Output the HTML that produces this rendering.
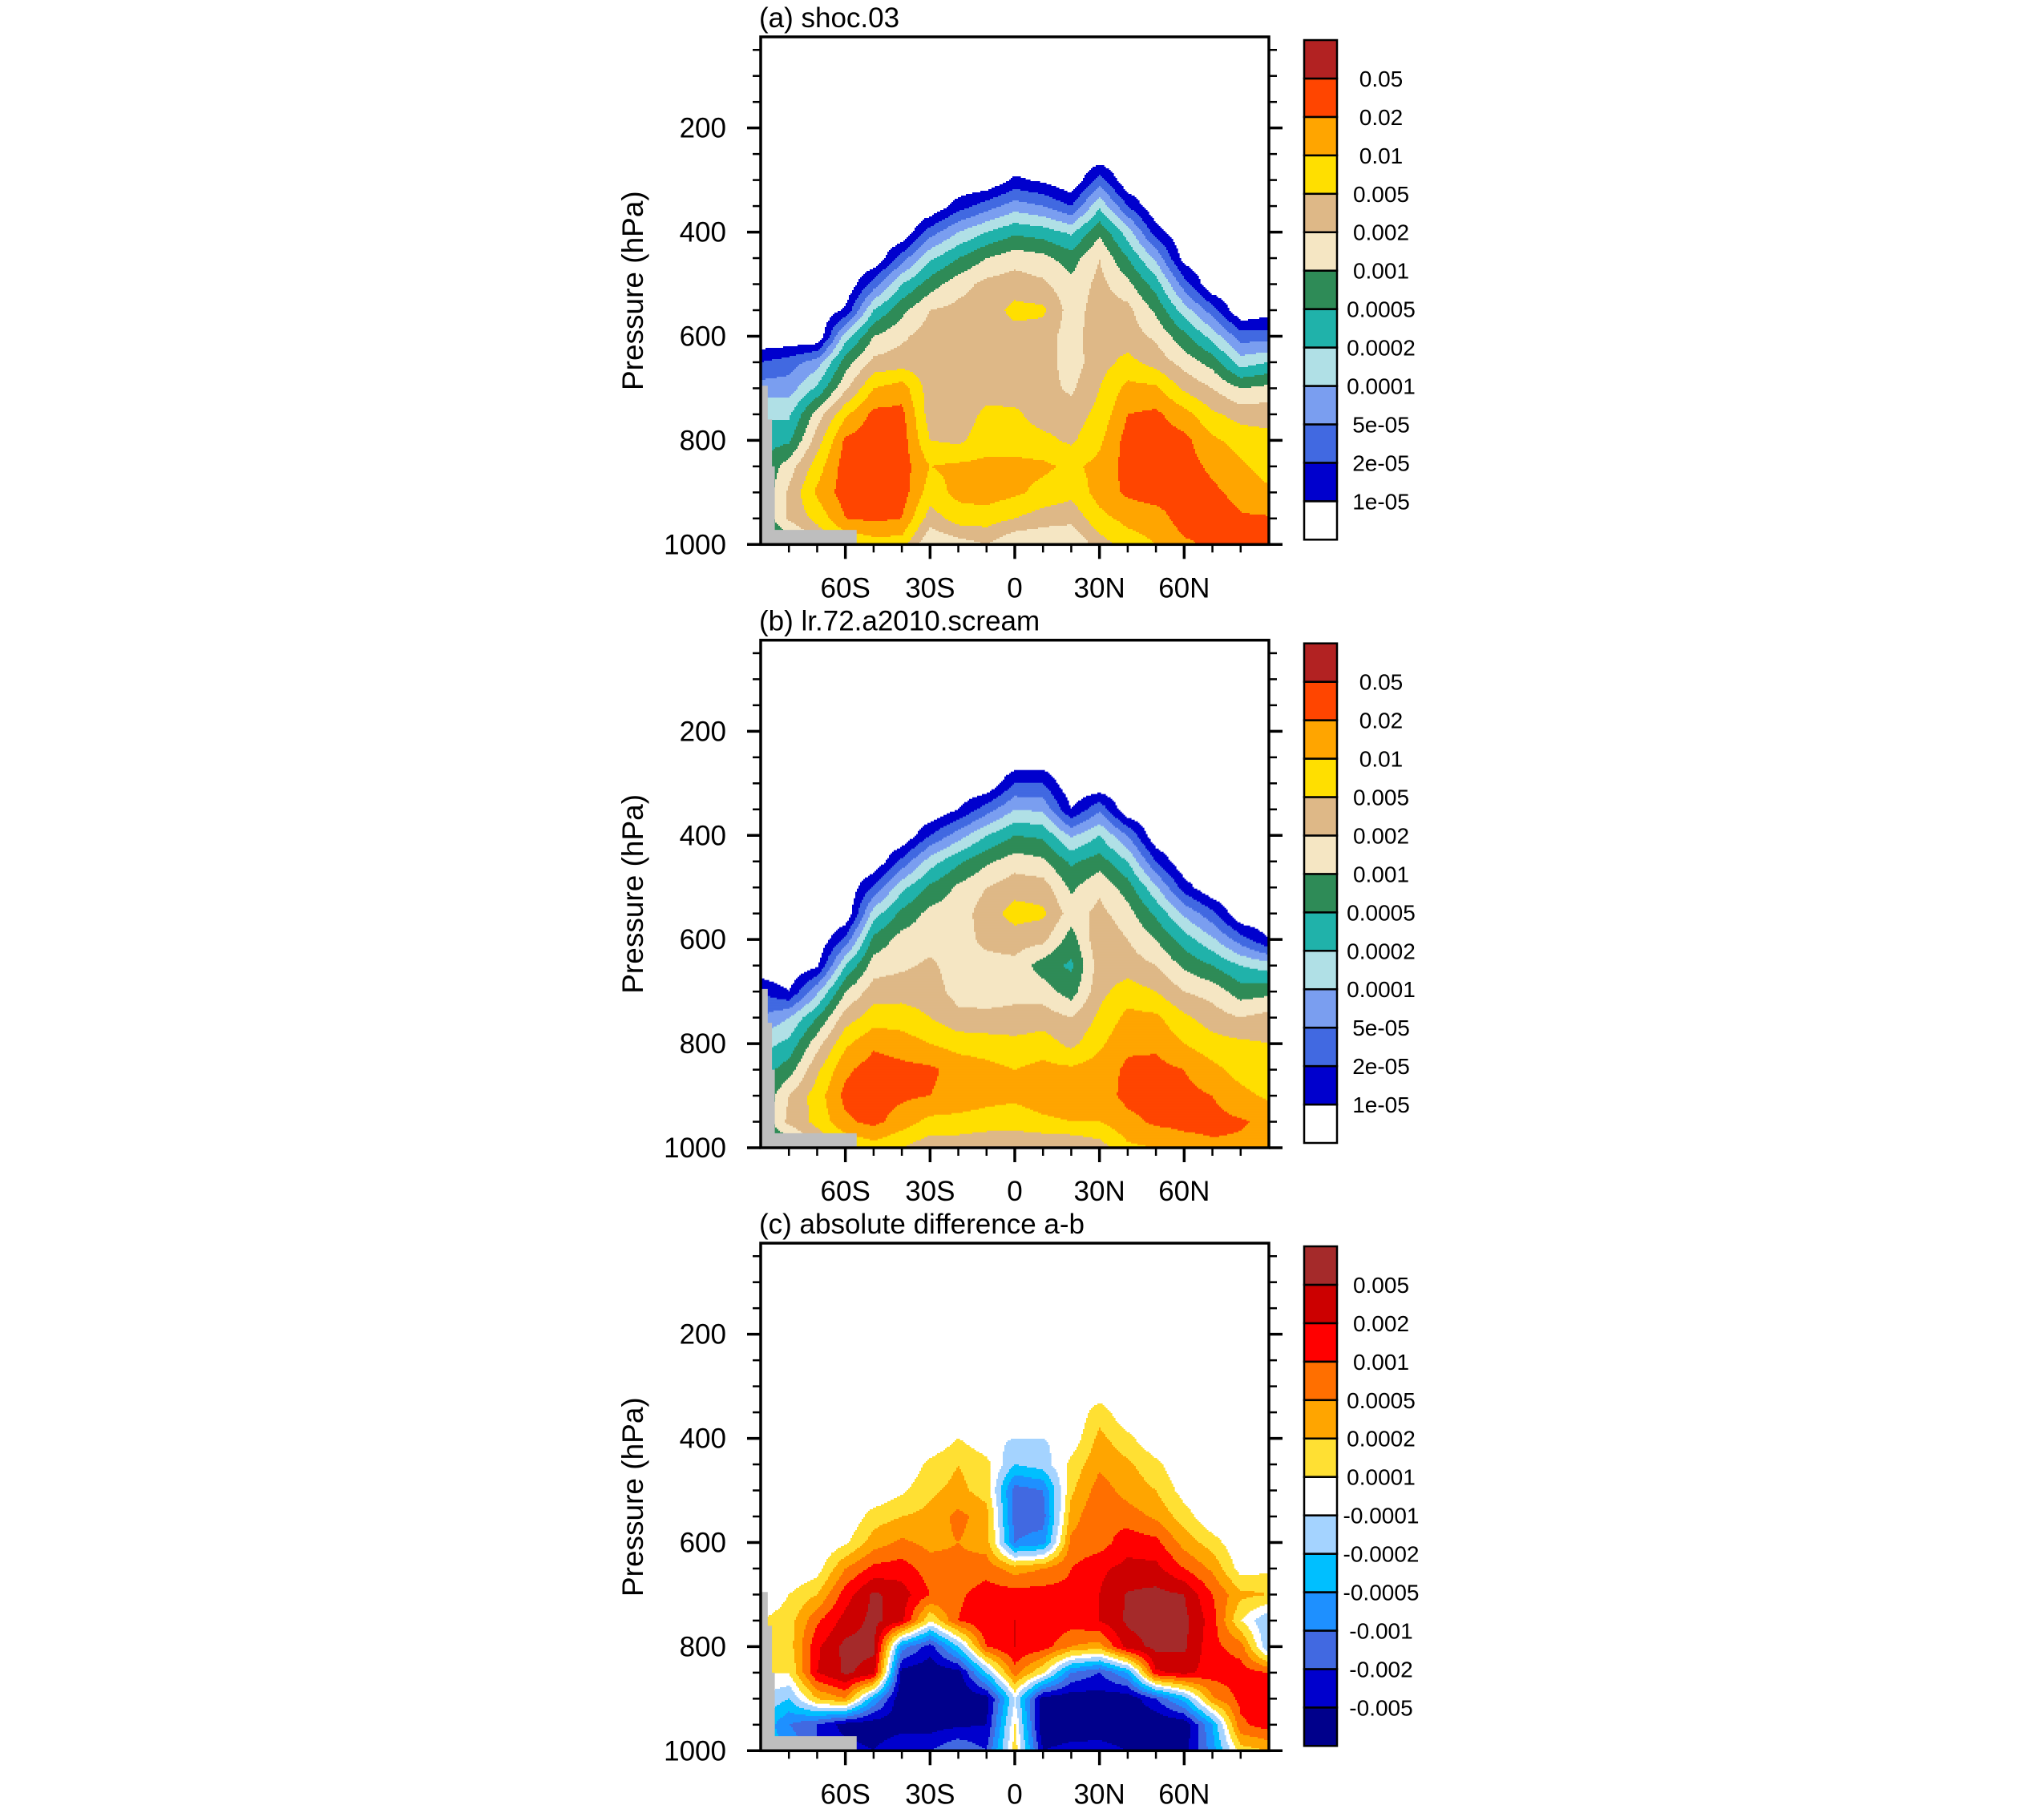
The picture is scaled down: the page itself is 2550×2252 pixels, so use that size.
<!DOCTYPE html>
<html><head><meta charset="utf-8"><style>
html,body{margin:0;padding:0;background:#fff;}
svg{display:block;font-family:"Liberation Sans",sans-serif;}
</style></head><body>
<svg id="fig" xmlns="http://www.w3.org/2000/svg" width="2550" height="2252" viewBox="0 0 2550 2252"></svg>
<script>
const latitudes = [-90,-80,-70,-60,-50,-40,-30,-20,-10,0,10,20,30,40,50,60,70,80,90];
const pressureLevels = [250,300,350,400,450,500,550,600,650,700,750,800,850,900,950,1000];
const yTickValues = [200,400,600,800,1000];
const xTickValues = [-60,-30,0,30,60];
const xTickLabels = ['60S','30S','0','30N','60N'];
const titles = ['(a) shoc.03','(b) lr.72.a2010.scream','(c) absolute difference a-b'];
const labelsAB = ['1e-05','2e-05','5e-05','0.0001','0.0002','0.0005','0.001','0.002','0.005','0.01','0.02','0.05'];
const labelsC = ['-0.005','-0.002','-0.001','-0.0005','-0.0002','-0.0001','0.0001','0.0002','0.0005','0.001','0.002','0.005'];
const colorsAB = ['#ffffff','#0000cd','#4169e1','#7a9ef0','#b0e0e6','#20b2aa','#2e8b57','#f5e6c3','#deb887','#ffdf00','#ffa500','#ff4500','#b22222'];
const colorsC = ['#00008b','#0000cd','#4169e1','#1e90ff','#00bfff','#a4d3ff','#ffffff','#ffe033','#ffa500','#ff6f00','#ff0000','#cc0000','#a52a2a'];
const terrainLat = [-90,-87.5,-87.5,-86,-86,-85,-85,-56,-56,-90];
const terrainP = [695,695,760,760,850,850,972,972,1000,1000];
const shocField = [
[0,0,0,0,0,0,0,0,2,3.5,4.8,5.5,6,6,6,6],
[0,0,0,0,0,0,0,0,2.5,3.5,4.8,5.8,7.5,8.2,8.2,6],
[0,0,0,0,0,0,0,0,3.5,5.2,7.5,8.5,9.5,10.2,9.3,8],
[0,0,0,0,0,0,1.2,4.5,6.5,7.8,9.8,11.2,11.5,11.5,11,9],
[0,0,0,0,0,2.5,5,7,8.3,10,11.3,11.6,11.6,11.6,11.2,9.5],
[0,0,0,0,2.5,5,6.7,7.8,8.5,10.5,11.3,11.5,11.5,11.5,11,9.5],
[0,0,0,2.5,4.8,6.5,8,8.5,8.5,8.5,8.5,9,10,9.5,8.5,7],
[0,0,1.5,4,6,7.6,8.3,8.5,8.5,8.5,8.5,8.8,10.2,10.3,9.5,7.5],
[0,0,2.5,5,7,8.3,8.5,8.5,8.5,8.6,9.2,9.5,10.3,10.5,9.5,8],
[0,1.2,3.5,5.8,7.6,8.5,9.3,8.6,8.5,8.5,9.2,9.5,10.3,10.2,9,7],
[0,0.8,3,5.5,7.3,8.2,9.2,8.5,8.5,8.4,8.5,9.3,10.2,9.7,8.5,7],
[0,0,2,4.8,6.5,7.3,7.5,7.5,7.5,7.8,8.5,8.8,9.8,9.3,8.3,7],
[0,2.5,4.8,6.8,8,8.3,8.5,8.7,8.6,9,9.3,9.8,10.3,10.4,9.7,8.5],
[0,0,2,4.5,6,7.3,8.3,8.5,9.3,10.3,11,11.4,11.4,11.2,10.3,9.5],
[0,0,0,1.5,3.8,5.5,6.8,7.8,8.6,10.2,11.2,11.5,11.5,11.5,10.5,10],
[0,0,0,0,0.5,2.5,4.5,6.3,7.6,8.8,10.4,11.3,11.4,11.5,11.5,10.8],
[0,0,0,0,0,0,2.5,4.6,6.6,8,9.2,10.2,10.8,11.2,11.5,11.2],
[0,0,0,0,0,0,0,2.5,4.5,7,8.6,9.6,10.2,10.7,11.1,11.3],
[0,0,0,0,0,0,0.5,2.5,5,7.3,8.6,9.3,9.5,10.2,11.1,11.2]];
const screamField = [
[0,0,0,0,0,0,0,0,0,2,3,4.5,5.5,6,6,6],
[0,0,0,0,0,0,0,0,0,1,4,5.3,6.5,8,8.3,6],
[0,0,0,0,0,0,0,0,0.8,3.8,6,7.6,8.8,9.5,9.3,8],
[0,0,0,0,0,0,0,2.3,5,7,8.5,9.8,10.8,11.3,10.8,9],
[0,0,0,0,0,2.2,4.5,6.3,7.5,8.5,9.5,10.8,11.5,11.5,11.3,9.5],
[0,0,0,0,2.3,4.7,6.3,7.4,7.8,8.6,9.5,10.5,11.3,11.2,10.5,9],
[0,0,0,2,4.5,6.2,7.3,7.6,8.2,8.5,9,10,11.2,11,9.7,8.3],
[0,0,1,3.5,5.8,7.2,7.5,7.5,7.5,7.6,8.3,9.6,10.6,10.6,9.7,8.3],
[0,0,2.5,5,6.8,8,8.5,8.3,7.6,7.6,8.2,9.5,10.3,10.3,9.6,8],
[0,2,4,6,7.5,8.6,9.4,8.5,7.7,7.7,8.3,9.3,10,10.2,9.5,8],
[0,2,3.8,5.8,7.2,8.5,9.2,8.3,6.5,7.5,8.5,9.5,10.3,10.5,9.8,8],
[0,0,1,3.8,5.8,6.8,7.5,6.5,5.8,6.5,8,8.7,10.2,10.6,10,8],
[0,0,2.8,5,6.5,7.8,8.3,8.8,8.5,8.7,9.2,9.8,10.5,10.5,10,8.5],
[0,0,0,3,5,6.5,7.4,8,8.5,9.5,10.3,10.8,11.2,11.3,10.7,9.8],
[0,0,0,0,2,4.2,5.8,7,8,9,10.2,10.8,11.3,11.4,11.2,10],
[0,0,0,0,0,1.5,3.8,5.5,6.8,8,9.2,10,11,11.3,11.3,10.5],
[0,0,0,0,0,0,2.3,4.2,6,7.6,8.5,9.4,10.3,11,11.3,10.8],
[0,0,0,0,0,0,0,2.5,5,6.5,8,9.2,9.6,10.3,11.1,10.8],
[0,0,0,0,0,0,0,1,4.5,6.7,8.4,9,9.3,9.8,10.8,10.5]];
const diffField = [
[6,6,6,6,6,6,6,6,6,6,7,7,7,6,5,5],
[6,6,6,6,6,6,6,6,6,7,7.5,7.5,7,5,3,4],
[6,6,6,6,6,6,6,6,6.5,8,9.8,10.8,11,8,2,2],
[6,6,6,6,6,6,6,6.8,9,10.5,11.4,12.3,12.2,9,0.5,1.5],
[6,6,6,6,6,6,7.5,8.5,10.3,12.2,12.3,12.3,11.5,4,0.3,1],
[6,6,6,6,6,6.8,8,9.2,10.5,11.5,11.3,3.5,0.5,0,0.5,2],
[6,6,6,6,7.3,7.8,8.3,8.7,9.5,10,7,1.5,0.2,0,0.5,2],
[6,6,6,7,8,8.3,9.3,9,9.3,9.8,10,5,0.5,0,0.8,3],
[6,6,6,6.2,7.3,7.5,8.5,8.5,9.6,10.5,11,10,5,0.5,1,2],
[6,6,6,6,5,2.5,2.5,3,8.5,10.5,11,11,9.5,6,7,7.5],
[6,6,6,6,5.5,3,2.5,3.5,9,10.5,11,10.5,7,0.5,0,1],
[6,6,6,6.3,7.3,7.8,8.5,9.3,10,10.3,10.5,9,3,0.3,0,1.5],
[6,6,7.6,8.3,8.8,9.5,10,9.5,10.8,11,11,8.5,2,0.5,0.3,1.5],
[6,6,6,7.3,8.2,8.6,9.5,10.6,11.3,12.1,12.2,11.5,4,0.2,0,1],
[6,6,6,6,7.3,8,8.8,10.3,11.3,12.3,12.4,12.3,10.8,2,0,0.5],
[6,6,6,6,6,6.5,7.5,8.6,10,12,12.3,12.2,11.3,4.5,0.2,0.5],
[6,6,6,6,6,6,6,7.5,8.8,10,10.5,10.3,10.5,8.8,4,3.5],
[6,6,6,6,6,6,6,6,6.5,8.3,7,9.5,10.5,10.3,9.8,7.5],
[6,6,6,6,6,6,6,6,6.8,8,5,5,10,10.5,10.5,8]];

const NS='http://www.w3.org/2000/svg';
const svg=document.getElementById('fig');
const PX0=949, PX1=1583, PH=633.3, PTOP=[46,798.7,1551], PMIN=25, PMAX=1000;
function mk(tag,attrs,parent){const e=document.createElementNS(NS,tag);for(const k in attrs)e.setAttribute(k,attrs[k]);(parent||svg).appendChild(e);return e;}
function xOf(lat){return PX0+(lat+90)/180*(PX1-PX0);}
function latOf(x){return (x-PX0)/(PX1-PX0)*180-90;}
function yOf(p,top){return top+(p-PMIN)/(PMAX-PMIN)*PH;}
function pOf(y,top){return PMIN+(y-top)/PH*(PMAX-PMIN);}
function sample(field,lat,p,def){
  if(p<pressureLevels[0])return def;
  let fi=(lat-latitudes[0])/10; fi=Math.max(0,Math.min(latitudes.length-1,fi));
  let fj=(p-pressureLevels[0])/50; fj=Math.max(0,Math.min(pressureLevels.length-1,fj));
  const i0=Math.min(Math.floor(fi),latitudes.length-2), j0=Math.min(Math.floor(fj),pressureLevels.length-2);
  const a=fi-i0,b=fj-j0;
  const v00=field[i0][j0],v10=field[i0+1][j0],v01=field[i0][j0+1],v11=field[i0+1][j0+1];
  return (1-a)*(1-b)*v00+a*(1-b)*v10+(1-a)*b*v01+a*b*v11;
}
function drawPanel(k,field,colors,labels,def,skip){
  const top=PTOP[k], bot=top+PH;
  const g=mk('g',{});
  
  
  const cg=mk('g',{},g);
  
  
  const step=2;
  for(let y=top;y<bot;y+=step){
    const p=pOf(y+step/2,top);
    let runStart=PX0, runIdx=-1;
    for(let x=PX0;x<=PX1;x+=step){
      let idx=-2;
      if(x<PX1){const v=sample(field,latOf(x+step/2),p,def);idx=Math.max(0,Math.min(12,Math.floor(v+1e-6)));}
      if(idx!==runIdx){
        if(runIdx>=0&&runIdx!==skip){
          const r=mk('rect',{x:runStart,y:y,width:Math.min(x,PX1)-runStart+0.6,height:step+0.6,fill:colors[runIdx]},cg);
          
          
        }
        runStart=x; runIdx=idx;
      }
    }
  }
  const pts=terrainLat.map((la,i)=>xOf(la)+','+yOf(terrainP[i],top)).join(' ');
  const ter=mk('polygon',{points:pts,fill:'#bebebe'},g);
  
  
  const fr=mk('rect',{x:PX0,y:top,width:PX1-PX0,height:PH,fill:'none',stroke:'#000','stroke-width':3.5},g);
  
  
  for(let p=50;p<=1000;p+=50){
    const y=yOf(p,top), major=p%200===0;
    const L=major?17:10;
    const t1=mk('line',{x1:PX0,x2:PX0-L,y1:y,y2:y,stroke:'#000','stroke-width':major?3.5:2.5},g);
    
    
    const t2=mk('line',{x1:PX1,x2:PX1+L,y1:y,y2:y,stroke:'#000','stroke-width':major?3.5:2.5},g);
    
    
  }
  yTickValues.forEach(v=>{
    const t=mk('text',{x:906,y:yOf(v,top)+12,'text-anchor':'end','font-size':35},g);
    t.textContent=v;
    
    
  });
  for(let la=-80;la<=80;la+=10){
    const x=xOf(la), major=la%30===0;
    const t=mk('line',{x1:x,x2:x,y1:bot,y2:bot+(major?18:10),stroke:'#000','stroke-width':major?3.5:2.5},g);
    
    
  }
  xTickValues.forEach((v,i)=>{
    const t=mk('text',{x:xOf(v),y:bot+66,'text-anchor':'middle','font-size':35},g);
    t.textContent=xTickLabels[i];
    
    
  });
  const yt=mk('text',{x:0,y:0,'text-anchor':'middle','font-size':37,transform:'translate(802,'+(top+PH/2)+') rotate(-90)'},g);
  yt.textContent='Pressure (hPa)';
  
  
  const tt=mk('text',{x:947,y:top-12,'font-size':35},g);
  tt.textContent=titles[k];
  
  
  const cb=mk('g',{},g);
  
  
  const ct=top+4, cbm=bot-6, h=(cbm-ct)/13;
  for(let i=0;i<13;i++){
    const r=mk('rect',{x:1627,y:cbm-(i+1)*h,width:41,height:h,fill:colors[i],stroke:'#000','stroke-width':2.5},cb);
    
    
  }
  labels.forEach((s,i)=>{
    const t=mk('text',{x:1723,y:cbm-(i+1)*h+10,'text-anchor':'middle','font-size':28},cb);
    t.textContent=s;
    
    
  });
}
drawPanel(0,shocField,colorsAB,labelsAB,0,0);
drawPanel(1,screamField,colorsAB,labelsAB,0,0);
drawPanel(2,diffField,colorsC,labelsC,6,6);
</script>
</body></html>
